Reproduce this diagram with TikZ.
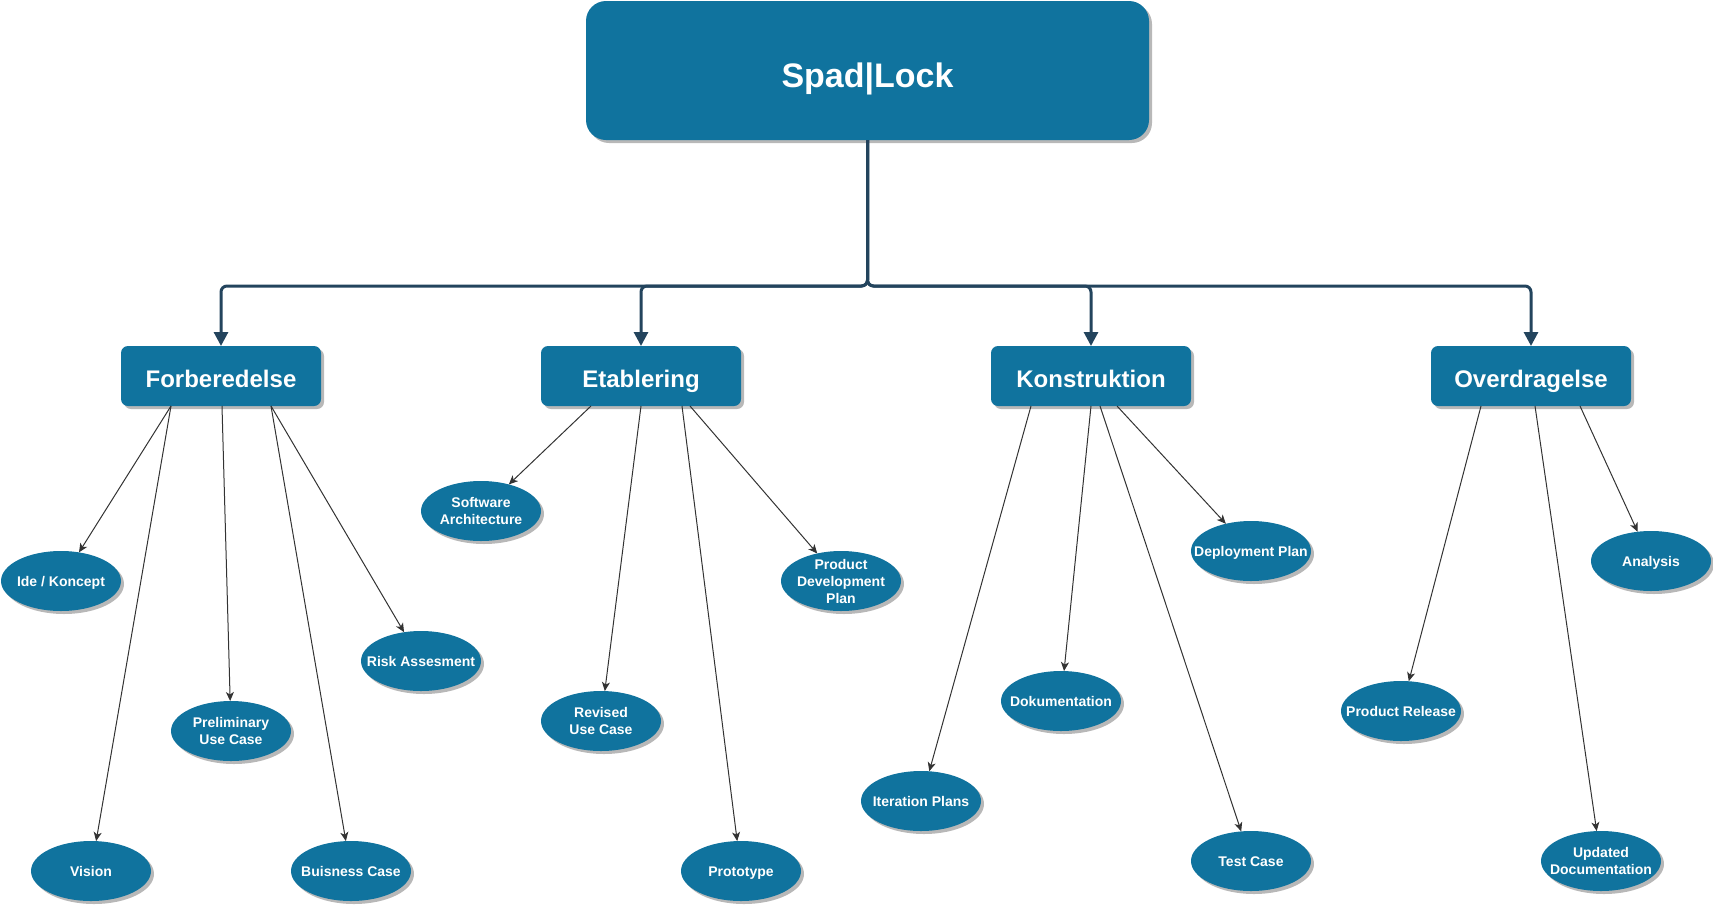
\documentclass[tikz,border=0pt]{standalone}
\usepackage{fontspec}
\setmainfont{Liberation Sans}
\usetikzlibrary{arrows.meta,shadows,shapes.geometric,calc}
\definecolor{nodeblue}{HTML}{10739E}
\definecolor{trunkc}{HTML}{23445D}
\definecolor{edgec}{HTML}{333333}
\begin{document}
\begin{tikzpicture}[x=1pt,y=-1pt,
  shd/.style={drop shadow={shadow xshift=3pt,shadow yshift=-3pt,fill=black!28,opacity=1}},
  rootbox/.style={rectangle,rounded corners=20pt,fill=nodeblue,draw=none,shd,
    minimum width=563pt,minimum height=139pt,inner sep=0pt,outer sep=0pt,
    text height=36pt,text depth=3pt,
    text=white,font=\fontsize{34}{40}\selectfont\bfseries},
  phase/.style={rectangle,rounded corners=7pt,fill=nodeblue,draw=none,shd,
    minimum width=200pt,minimum height=60pt,inner sep=0pt,outer sep=0pt,
    text height=24pt,text depth=2pt,
    text=white,font=\fontsize{24}{28}\selectfont\bfseries},
  ell/.style={ellipse,fill=nodeblue,draw=none,shd,
    minimum width=120pt,minimum height=60pt,inner sep=0pt,outer sep=0pt},
  lbl/.style={text=white,align=center,inner sep=0pt,
    font=\fontsize{14}{17}\selectfont\bfseries},
  lbla/.style={lbl,text height=11pt,text depth=1pt},
  trunk/.style={draw=trunkc,line width=3pt,rounded corners=6pt,
    -{Triangle[width=14pt,length=14pt]}},
  thinedge/.style={draw=edgec,line width=1pt,
    -{Stealth[length=9pt,width=8pt,inset=2.5pt]}}
]
\useasboundingbox (0,0) rectangle (1713,905);

% root and phases
\node[rootbox] (root) at (867.5,70.5) {Spad|Lock};
\node[phase] (F) at (221,376) {Forberedelse};
\node[phase] (E) at (641,376) {Etablering};
\node[phase] (K) at (1091,376) {Konstruktion};
\node[phase] (O) at (1531,376) {Overdragelse};

\coordinate (bus) at (867.5,286);

% leaves
\node[ell,label={[lbla]center:Ide / Koncept}] (ide) at (61,581) {};
\node[ell,label={[lbla]center:Vision}] (vis) at (91,871) {};
\node[ell,label={[lbl]center:Preliminary\\Use Case}] (pre) at (231,731) {};
\node[ell,label={[lbla]center:Buisness Case}] (bus2) at (351,871) {};
\node[ell,label={[lbla]center:Risk Assesment}] (risk) at (421,661) {};
\node[ell,label={[lbl]center:Software\\Architecture}] (soft) at (481,511) {};
\node[ell,label={[lbl]center:Revised\\Use Case}] (rev) at (601,721) {};
\node[ell,label={[lbla]center:Prototype}] (proto) at (741,871) {};
\node[ell,label={[lbl]center:Product\\Development\\Plan}] (pdp) at (841,581) {};
\node[ell,label={[lbla]center:Iteration Plans}] (iter) at (921,801) {};
\node[ell,label={[lbla]center:Dokumentation}] (dok) at (1061,701) {};
\node[ell,label={[lbla]center:Deployment Plan}] (dep) at (1251,551) {};
\node[ell,label={[lbla]center:Test Case}] (test) at (1251,861) {};
\node[ell,label={[lbla]center:Product Release}] (rel) at (1401,711) {};
\node[ell,label={[lbl]center:Updated\\Documentation}] (upd) at (1601,861) {};
\node[ell,label={[lbla]center:Analysis}] (ana) at (1651,561) {};

% trunk connectors
\draw[trunk] (root.south) -- (bus) -| (F.north);
\draw[trunk] (root.south) -- (bus) -| (E.north);
\draw[trunk] (root.south) -- (bus) -| (K.north);
\draw[trunk] (root.south) -- (bus) -| (O.north);

% leaf connectors
\draw[thinedge] ($(F.south west)!0.25!(F.south east)$) -- (ide);
\draw[thinedge] ($(F.south west)!0.25!(F.south east)$) -- (vis);
\draw[thinedge] ($(F.south west)!0.505!(F.south east)$) -- (pre);
\draw[thinedge] ($(F.south west)!0.75!(F.south east)$) -- (bus2);
\draw[thinedge] ($(F.south west)!0.75!(F.south east)$) -- (risk);

\draw[thinedge] ($(E.south west)!0.25!(E.south east)$) -- (soft);
\draw[thinedge] ($(E.south west)!0.5!(E.south east)$) -- (rev);
\draw[thinedge] ($(E.south west)!0.705!(E.south east)$) -- (proto);
\draw[thinedge] ($(E.south west)!0.745!(E.south east)$) -- (pdp);

\draw[thinedge] ($(K.south west)!0.2!(K.south east)$) -- (iter);
\draw[thinedge] ($(K.south west)!0.5!(K.south east)$) -- (dok);
\draw[thinedge] ($(K.south west)!0.545!(K.south east)$) -- (test);
\draw[thinedge] ($(K.south west)!0.63!(K.south east)$) -- (dep);

\draw[thinedge] ($(O.south west)!0.25!(O.south east)$) -- (rel);
\draw[thinedge] ($(O.south west)!0.52!(O.south east)$) -- (upd);
\draw[thinedge] ($(O.south west)!0.745!(O.south east)$) -- (ana);
\end{tikzpicture}
\end{document}
